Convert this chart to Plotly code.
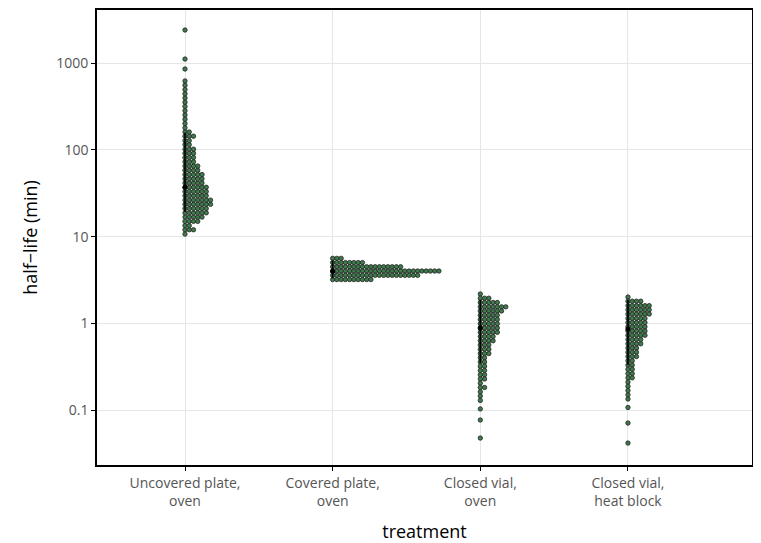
import plotly.graph_objects as go

# ---------------- data ----------------
categories = ["Uncovered plate,<br>oven", "Covered plate,<br>oven",
              "Closed vial,<br>oven", "Closed vial,<br>heat block"]

# binned half-life values (min) and number of dots in each bin
g1_values = [10.7, 12.0, 13.4, 15.0, 16.8, 18.8, 21.1, 23.6, 26.4, 29.6, 33.1, 37.1,
             41.5, 46.5, 52.0, 58.2, 65.2, 73.0, 81.7, 91.5, 102, 115, 128, 144, 161,
             180, 202, 226, 253, 283, 317, 355, 397, 444, 497, 557, 624, 857, 1117, 2415]
g1_counts = [1, 3, 2, 4, 5, 6, 6, 7, 7, 6, 6, 6,
             5, 5, 5, 4, 4, 3, 3, 3, 3, 2, 2, 3, 2,
             1, 1, 1, 1, 1, 1, 1, 1, 1, 1, 1, 1, 1, 1, 1]

g2_values = [5.62, 5.02, 4.49, 4.01, 3.58, 3.20]
g2_counts = [3, 8, 17, 26, 21, 10]

g3_values = [2.18, 1.95, 1.74, 1.55, 1.39, 1.24, 1.11, 0.99, 0.883, 0.788, 0.704, 0.629,
             0.562, 0.502, 0.448, 0.401, 0.358, 0.320, 0.286, 0.255, 0.228, 0.204, 0.182,
             0.162, 0.145, 0.129, 0.103, 0.0767, 0.0475]
g3_counts = [1, 3, 5, 7, 6, 5, 5, 5, 5, 5, 4, 4,
             3, 3, 3, 2, 2, 2, 2, 2, 2, 1, 2,
             1, 1, 1, 1, 1, 1]

g4_values = [2.01, 1.80, 1.60, 1.43, 1.28, 1.14, 1.02, 0.912, 0.815, 0.728, 0.650, 0.581,
             0.519, 0.464, 0.414, 0.370, 0.330, 0.295, 0.263, 0.235, 0.210, 0.188, 0.168,
             0.150, 0.134, 0.107, 0.0708, 0.0416]
g4_counts = [1, 4, 6, 6, 6, 5, 5, 5, 5, 5, 4, 4,
             3, 3, 3, 2, 2, 2, 2, 2, 1, 1, 1,
             1, 1, 1, 1, 1]

medians = [37.1, 4.0, 0.883, 0.86]
interval_low = [19.2, 3.3, 0.348, 0.33]
interval_high = [158, 5.3, 1.86, 1.86]

y_ticks = [0.1, 1, 10, 100, 1000]
y_tick_labels = ["0.1", "1", "10", "100", "1000"]

# ---------------- figure ----------------
# page body has an 8px default margin, so the figure is sized to fit the window
W, H = 753, 535
ml, mr, mt, mb = 89, 9, 2, 78
x_range = [0.404, 4.84]
dot_px = 4.25
dx = dot_px / (W - ml - mr) * (x_range[1] - x_range[0])

groups = [(g1_values, g1_counts), (g2_values, g2_counts),
          (g3_values, g3_counts), (g4_values, g4_counts)]

fig = go.Figure()
for gi, (vals, cnts) in enumerate(groups):
    xs, ys = [], []
    for v, n in zip(vals, cnts):
        for k in range(n):
            xs.append(gi + 1 + k * dx)
            ys.append(v)
    fig.add_trace(go.Scatter(
        x=xs, y=ys, mode="markers",
        marker=dict(size=4.4, color="#3f7a4c", line=dict(color="#222222", width=0.8)),
        hoverinfo="skip", showlegend=False))

for gi in range(4):
    fig.add_trace(go.Scatter(
        x=[gi + 1, gi + 1], y=[interval_low[gi], interval_high[gi]], mode="lines",
        line=dict(color="black", width=1.6), hoverinfo="skip", showlegend=False))
fig.add_trace(go.Scatter(
    x=[1, 2, 3, 4], y=medians, mode="markers",
    marker=dict(size=5, color="black"), hoverinfo="skip", showlegend=False))

font_family = "Open Sans, Lato, DejaVu Sans, sans-serif"
fig.update_layout(
    width=W, height=H,
    margin=dict(l=ml, r=mr, t=mt, b=mb, autoexpand=False),
    plot_bgcolor="white", paper_bgcolor="white",
    font=dict(family=font_family),
    xaxis=dict(
        range=x_range, tickvals=[1, 2, 3, 4], ticktext=categories,
        showgrid=True, gridcolor="#e6e6e6", gridwidth=1,
        showline=True, linecolor="black", linewidth=1.6, mirror=True,
        ticks="outside", ticklen=4, tickcolor="black", tickwidth=1,
        tickfont=dict(size=14, color="#555555"), automargin=False,
        title=dict(text="treatment", font=dict(size=18, color="black"), standoff=22),
        zeroline=False),
    yaxis=dict(
        type="log", range=[-1.634, 3.614],
        tickvals=y_ticks, ticktext=y_tick_labels,
        showgrid=True, gridcolor="#e6e6e6", gridwidth=1,
        showline=True, linecolor="black", linewidth=1.6, mirror=True,
        ticks="outside", ticklen=4, tickcolor="black", tickwidth=1,
        tickfont=dict(size=14, color="#555555"), automargin=False,
        title=dict(text="half\u2212life (min)", font=dict(size=18, color="black"), standoff=14),
        zeroline=False),
)

fig.write_html("out.html")
